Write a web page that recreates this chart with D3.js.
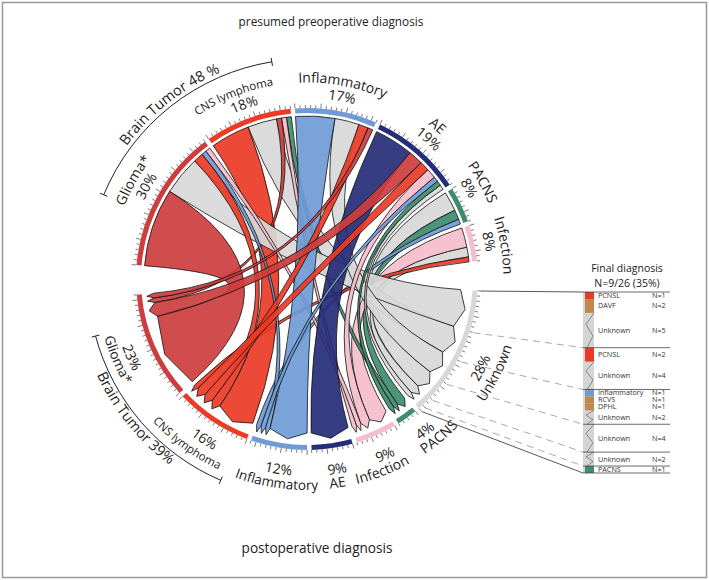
<!DOCTYPE html>
<html>
<head>
<meta charset="utf-8">
<script src="https://cdn.jsdelivr.net/npm/d3@7"></script>
<style>
  body { margin: 0; background: #fff; }
  text { font-family: "Open Sans", "Noto Sans", sans-serif; fill: #222; }
</style>
</head>
<body>
<div id="chart"></div>
<script>
// ---- data ----
// preoperative (top half, clockwise from the left)
const preop = ["Glioma*", "CNS lymphoma", "Inflammatory", "AE", "PACNS", "Infection"];
const preopPct = ["30%", "18%", "17%", "19%", "8%", "8%"];
// postoperative (bottom half, clockwise from the right)
const postop = ["Unknown", "PACNS", "Infection", "AE", "Inflammatory", "CNS lymphoma", "Glioma*"];
const postopPct = ["28%", "4%", "9%", "9%", "12%", "16%", "23%"];
// flows[i][j] = patients with preop i and postop j
const flows = [
  [8, 0, 1, 0, 1, 2, 16],
  [6, 1, 1, 0, 0, 8, 1],
  [5, 0, 0, 0, 8, 2, 1],
  [1, 1, 2, 8, 1, 2, 3],
  [4, 2, 0, 0, 1, 0, 0],
  [2, 0, 4, 0, 0, 1, 0]
];
const brackets = ["Brain Tumor 48 %", "Brain Tumor 39%"];

// final diagnosis of the unknown group
const finalGroupN = [8, 6, 5, 4, 2, 1];
const finalNames = ["PCNSL", "DAVF", "Unknown", "PCNSL", "Unknown", "Inflammatory", "RCVS", "DPHL", "Unknown", "Unknown", "Unknown", "PACNS"];
const finalN = [1, 2, 5, 2, 4, 1, 1, 1, 2, 4, 2, 1];

// ---- styles ----
const C = {glioma: "#cd3d3e", cns: "#ec3a26", inflam: "#6f9bd6", ae: "#262c78",
           pacns: "#3e8c6c", infection: "#f6bdcc", unknown: "#d8d8d8", other: "#c0874f"};
const preColors = [C.glioma, C.cns, C.inflam, C.ae, C.pacns, C.infection];
const postColors = [C.unknown, C.pacns, C.infection, C.ae, C.inflam, C.cns, C.glioma];
const postRank = [6, 5, 4, 3, 2, 1, 0]; // tie order of links in a sector
const drawOrder = [4, 5, 1, 0, 2, 3];   // which preop rows are painted first
const finalColor = {PCNSL: C.cns, DAVF: C.other, Inflammatory: C.inflam, RCVS: C.other, DPHL: C.other, PACNS: C.pacns};

const W = 709, H = 580, cx = 307, cy = 279;
const rOut = 171, rIn = 166, rSrc = 163, rTgt = 161;
const padDeg = 1.5, gapDeg = 10, topStart = -85.3;
const rad = d => d * Math.PI / 180;
const deg = x => x * 180 / Math.PI;

const svg = d3.select("#chart").append("svg").attr("width", W).attr("height", H);
svg.append("rect").attr("x", 2.5).attr("y", 2.5).attr("width", W - 5).attr("height", H - 5)
  .attr("fill", "none").attr("stroke", "#999").attr("stroke-width", 1.5);

const g = svg.append("g").attr("transform", `translate(${cx},${cy})`);

// ---- layout ----
const topTotals = flows.map(r => d3.sum(r));
const botTotals = postop.map((_, j) => d3.sum(flows, r => r[j]));
const total = d3.sum(topTotals);
const unitDeg = (360 - 2 * gapDeg - (preop.length + postop.length - 2) * padDeg) / (2 * total);
const ang = d3.scaleLinear().domain([0, 1]).range([0, rad(unitDeg)]);

const groups = [];
let a = rad(topStart);
preop.forEach((name, i) => {
  groups.push({top: true, i, name, pct: preopPct[i], value: topTotals[i], color: preColors[i],
               startAngle: a, endAngle: a + ang(topTotals[i])});
  a += ang(topTotals[i]) + rad(padDeg);
});
a += rad(gapDeg - padDeg);
postop.forEach((name, j) => {
  groups.push({top: false, i: j, name, pct: postopPct[j], value: botTotals[j], color: postColors[j],
               startAngle: a, endAngle: a + ang(botTotals[j])});
  a += ang(botTotals[j]) + rad(padDeg);
});
const topG = groups.filter(d => d.top), botG = groups.filter(d => !d.top);

const src = {}, tgt = {};
topG.forEach(gr => {
  let s = gr.startAngle;
  d3.range(postop.length).filter(j => flows[gr.i][j] > 0)
    .sort((p, q) => flows[gr.i][q] - flows[gr.i][p] || postRank[p] - postRank[q])
    .forEach(j => { src[gr.i + "-" + j] = {startAngle: s, endAngle: s + ang(flows[gr.i][j])}; s += ang(flows[gr.i][j]); });
});
botG.forEach(gr => {
  let s = gr.startAngle;
  d3.range(preop.length).filter(i => flows[i][gr.i] > 0)
    .sort((p, q) => flows[q][gr.i] - flows[p][gr.i] || p - q)
    .forEach(i => { tgt[i + "-" + gr.i] = {startAngle: s, endAngle: s + ang(flows[i][gr.i])}; s += ang(flows[i][gr.i]); });
});
const chords = [];
drawOrder.forEach(i => flows[i].forEach((v, j) => {
  if (v > 0) chords.push({source: src[i + "-" + j], target: tgt[i + "-" + j], color: postColors[j]});
}));

// ---- ribbons ----
const ribbon = d3.ribbonArrow().sourceRadius(rSrc).targetRadius(rTgt).headRadius(7);
g.append("g").selectAll("path").data(chords).join("path")
  .attr("d", ribbon)
  .attr("fill", d => d.color).attr("fill-opacity", 0.92)
  .attr("stroke", "#111").attr("stroke-width", 0.8).attr("stroke-linejoin", "round");

// ---- sector bands and ticks ----
const arc = d3.arc().innerRadius(rIn).outerRadius(rOut);
g.append("g").selectAll("path").data(groups).join("path")
  .attr("d", arc).attr("fill", d => d.color);

const ticks = groups.flatMap(gr => d3.range(gr.value + 1).map(k => ({a: gr.startAngle + ang(k), major: k % 5 === 0})));
g.append("g").selectAll("line").data(ticks).join("line")
  .attr("x1", d => rOut * Math.sin(d.a)).attr("y1", d => -rOut * Math.cos(d.a))
  .attr("x2", d => (rOut + (d.major ? 5 : 3)) * Math.sin(d.a))
  .attr("y2", d => -(rOut + (d.major ? 5 : 3)) * Math.cos(d.a))
  .attr("stroke", "#444").attr("stroke-width", 0.7);

// ---- curved labels ----
const defs = svg.append("defs");
let pid = 0;
function curved(text, r, midDeg, top, size) {
  const id = "tp" + (pid++), span = rad(70), m = rad(midDeg) - Math.PI / 2;
  const p = d3.path();
  if (top) p.arc(0, 0, r, m - span, m + span);
  else p.arc(0, 0, r, m + span, m - span, true);
  defs.append("path").attr("id", id).attr("d", p.toString());
  g.append("text").attr("font-size", size)
    .append("textPath").attr("href", "#" + id).attr("startOffset", "50%")
    .attr("text-anchor", "middle").text(text);
}
const topNameOff = [0.5, -1.5, 0.5, -0.5, -3, 2.5], topPctOff = [1, 0.5, 1, 0, -3.5, 0.5];
const topNameSize = [14, 11.5, 14, 14, 14, 14];
topG.forEach((gr, k) => {
  const mid = deg((gr.startAngle + gr.endAngle) / 2);
  curved(gr.name, 196.5, mid + topNameOff[k], true, topNameSize[k]);
  curved(gr.pct, 181, mid + topPctOff[k], true, 14);
});
const botNameOff = [0, -4, 2.5, 0, -1, 2.5, 0.5], botPctOff = [0.5, -2, 0, -0.5, -1, -1, -0.5];
const botNameSize = [14, 14, 14, 14, 13.5, 11.5, 13.5];
const botNameR = [216, 211, 211, 211, 211, 210, 211], botPctR = [200, 197, 197, 197, 197, 195, 197];
botG.forEach((gr, k) => {
  const mid = deg((gr.startAngle + gr.endAngle) / 2);
  curved(gr.name, botNameR[k], mid + botNameOff[k], false, botNameSize[k]);
  curved(gr.pct, botPctR[k], mid + botPctOff[k], false, 14);
});

// ---- brain tumor brackets ----
function bracket(r, d0, d1) {
  const p = d3.path();
  p.arc(0, 0, r, rad(d0) - Math.PI / 2, rad(d1) - Math.PI / 2);
  [d0, d1].forEach(d => {
    p.moveTo((r - 4) * Math.sin(rad(d)), -(r - 4) * Math.cos(rad(d)));
    p.lineTo((r + 4) * Math.sin(rad(d)), -(r + 4) * Math.cos(rad(d)));
  });
  g.append("path").attr("d", p.toString()).attr("fill", "none").attr("stroke", "#222").attr("stroke-width", 1);
}
bracket(220, -67.5, -9.2);
bracket(219, 203.2, 254.9);
curved(brackets[0], 224, -38.2, true, 14.5);
curved(brackets[1], 231, 231, false, 14.5);

// ---- titles ----
svg.append("text").attr("x", 331).attr("y", 26).attr("text-anchor", "middle").attr("font-size", 11.8).text("presumed preoperative diagnosis");
svg.append("text").attr("x", 317).attr("y", 553).attr("text-anchor", "middle").attr("font-size", 13.6).text("postoperative diagnosis");

// ---- final diagnosis panel ----
const px = 583, pw = 11;
const cum = [0, ...d3.cumsum(finalGroupN)];
const yP = d3.scaleLinear().domain([0, d3.sum(finalGroupN)]).range([292, 473]);
const unk = botG[0];
const links = cum.map((c, k) => {
  const aa = unk.startAngle + ang(c), r = 175;
  return {x1: cx + r * Math.sin(aa), y1: cy - r * Math.cos(aa), x2: px, y2: yP(c), edge: k === 0 || k === cum.length - 1};
});
svg.append("g").selectAll("line").data(links).join("line")
  .attr("x1", d => d.x1).attr("y1", d => d.y1).attr("x2", d => d.x2).attr("y2", d => d.y2)
  .attr("stroke", d => d.edge ? "#444" : "#aaa").attr("stroke-width", d => d.edge ? 0.9 : 1)
  .attr("stroke-dasharray", d => d.edge ? null : "7,5");

const panel = svg.append("g");
panel.append("rect").attr("x", px).attr("y", yP(0)).attr("width", pw).attr("height", yP(d3.sum(finalGroupN)) - yP(0)).attr("fill", "#d4d4d4");

const fcum = [0, ...d3.cumsum(finalN)];
const entries = finalNames.map((n, k) => ({name: n, n: finalN[k], y0: yP(fcum[k]), y1: yP(fcum[k + 1])}));
panel.selectAll("rect.col").data(entries.filter(d => finalColor[d.name])).join("rect").attr("class", "col")
  .attr("x", px + 2).attr("y", d => d.y0).attr("width", pw - 2).attr("height", d => d.y1 - d.y0)
  .attr("fill", d => finalColor[d.name]);
panel.selectAll("polyline").data(entries.filter(d => d.name === "Unknown")).join("polyline")
  .attr("points", d => `${px + pw},${d.y0} ${px + 3},${(d.y0 * 2 + d.y1) / 3} ${px + pw - 1},${(d.y0 + d.y1 * 2) / 3} ${px + 4},${d.y1}`)
  .attr("fill", "none").attr("stroke", "#555").attr("stroke-width", 0.6);
panel.selectAll("line.sep").data(cum).join("line").attr("class", "sep")
  .attr("x1", px).attr("x2", 670).attr("y1", d => yP(d)).attr("y2", d => yP(d))
  .attr("stroke", "#444").attr("stroke-width", 0.8);
panel.selectAll("text.nm").data(entries).join("text").attr("class", "nm")
  .attr("x", px + 15).attr("y", d => (d.y0 + d.y1) / 2 + 2.5).attr("font-size", 7.2).style("fill", "#333")
  .text(d => d.name);
panel.selectAll("text.nn").data(entries).join("text").attr("class", "nn")
  .attr("x", 652).attr("y", d => (d.y0 + d.y1) / 2 + 2.5).attr("font-size", 7.2).style("fill", "#333")
  .text(d => "N=" + d.n);
svg.append("text").attr("x", 627).attr("y", 272).attr("text-anchor", "middle").attr("font-size", 10.5).text("Final diagnosis");
svg.append("text").attr("x", 627).attr("y", 287).attr("text-anchor", "middle").attr("font-size", 10.5).text("N=9/26 (35%)");
</script>
</body>
</html>
